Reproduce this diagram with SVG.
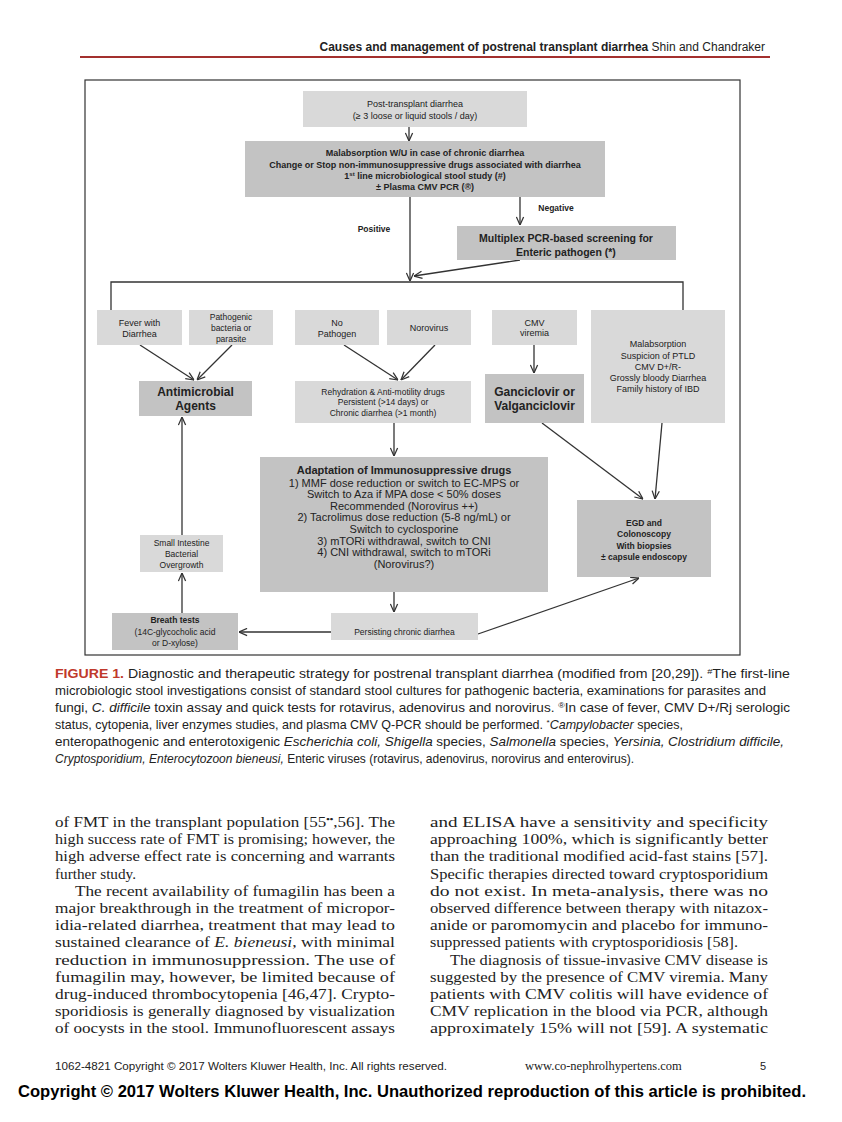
<svg xmlns="http://www.w3.org/2000/svg" width="842" height="1122" viewBox="0 0 842 1122">
<style>
.bg{fill:#ffffff}
.lt{fill:#d9d9d9}
.dk{fill:#c3c3c3}
.t{font-family:"Liberation Sans",Arial,sans-serif;fill:#222;text-anchor:middle}
.s9{font-size:9px}
.s85{font-size:8.5px}
.b{font-weight:bold}
.conn{stroke:#333;stroke-width:1.3;fill:none}
.arr{marker-end:url(#ah)}
.body{font-family:"Liberation Serif","Times New Roman",serif;font-size:15.4px;fill:#222}
.cap{font-family:"Liberation Sans",Arial,sans-serif;font-size:12.2px;fill:#222}
.i{font-style:italic}
</style>
<defs>
<marker id="ah" viewBox="0 0 10 10" refX="10" refY="5" markerWidth="9" markerHeight="9" markerUnits="userSpaceOnUse" orient="auto">
<path d="M1,1 L10,5 L1,9" fill="none" stroke="#333" stroke-width="1.4"/>
</marker>
</defs>
<rect class="bg" x="0" y="0" width="842" height="1122"/>

<!-- header -->
<g id="header">
<text x="765" y="51" text-anchor="end" font-family="'Liberation Sans',Arial,sans-serif" font-size="12px" fill="#222"><tspan font-weight="bold">Causes and management of postrenal transplant diarrhea</tspan> Shin and Chandraker</text>
<line x1="80" y1="57" x2="770" y2="57" stroke="#a3302e" stroke-width="2"/>
</g>

<!-- frame -->
<rect x="85" y="80" width="655" height="575" fill="none" stroke="#333" stroke-width="1.2"/>

<!-- connectors -->
<g id="connectors">
<line class="conn arr" x1="409" y1="127" x2="409" y2="141"/>
<line class="conn arr" x1="410" y1="197" x2="410" y2="281"/>
<line class="conn arr" x1="520" y1="197" x2="520" y2="225"/>
<line class="conn arr" x1="520" y1="260" x2="414" y2="276"/>
<path class="conn" d="M111,310 L111,282 L683,282 L683,310"/>
<line class="conn arr" x1="140" y1="345" x2="194" y2="380"/>
<line class="conn arr" x1="232" y1="345" x2="197" y2="380"/>
<line class="conn arr" x1="344" y1="345" x2="398" y2="380"/>
<line class="conn arr" x1="435" y1="345" x2="401" y2="380"/>
<line class="conn arr" x1="534" y1="345" x2="534" y2="373"/>
<line class="conn arr" x1="542" y1="423" x2="643" y2="499"/>
<line class="conn arr" x1="662" y1="423" x2="655" y2="499"/>
<line class="conn arr" x1="394" y1="423" x2="394" y2="456"/>
<line class="conn arr" x1="394" y1="592" x2="394" y2="612"/>
<line class="conn arr" x1="331" y1="632" x2="239" y2="632"/>
<line class="conn arr" x1="478" y1="634" x2="639" y2="578"/>
<line class="conn arr" x1="182" y1="613" x2="182" y2="573"/>
<line class="conn arr" x1="182" y1="535" x2="182" y2="417"/>
<text class="t b" x="556" y="211" font-size="8.5px">Negative</text>
<text class="t b" x="374" y="232" font-size="8.5px">Positive</text>
</g>

<g id="n-post">
<rect class="lt" x="303" y="91" width="224" height="36"/>
<text class="t s9" x="415" y="107">Post-transplant diarrhea</text>
<text class="t s9" x="415" y="119">(≥ 3 loose or liquid stools / day)</text>
</g>

<g id="n-malabs">
<rect class="dk" x="245" y="141" width="360" height="56"/>
<text class="t s9 b" x="425" y="156">Malabsorption W/U in case of chronic diarrhea</text>
<text class="t s9 b" x="425" y="168">Change or Stop non-immunosuppressive drugs associated with diarrhea</text>
<text class="t s9 b" x="425" y="179">1<tspan font-size="6px" dy="-3">st</tspan><tspan dy="3"> line microbiological stool study (#)</tspan></text>
<text class="t s9 b" x="425" y="190">± Plasma CMV PCR (®)</text>
</g>

<g id="n-multiplex">
<rect class="dk" x="457" y="226" width="219" height="34"/>
<text class="t b" x="566" y="242" font-size="10.5px">Multiplex PCR-based screening for</text>
<text class="t b" x="566" y="256" font-size="10.5px">Enteric pathogen (*)</text>
</g>

<g id="n-fever">
<rect class="lt" x="97" y="310" width="85" height="35"/>
<text class="t s9" x="139.5" y="326">Fever with</text>
<text class="t s9" x="139.5" y="337">Diarrhea</text>
</g>

<g id="n-pathogenic">
<rect class="lt" x="189" y="310" width="84" height="35"/>
<text class="t s85" x="231" y="320">Pathogenic</text>
<text class="t s85" x="231" y="331">bacteria or</text>
<text class="t s85" x="231" y="342">parasite</text>
</g>

<g id="n-nopath">
<rect class="lt" x="295" y="310" width="84" height="35"/>
<text class="t s9" x="337" y="326">No</text>
<text class="t s9" x="337" y="337">Pathogen</text>
</g>

<g id="n-noro">
<rect class="lt" x="387" y="310" width="84" height="35"/>
<text class="t s9" x="429" y="331">Norovirus</text>
</g>

<g id="n-cmv">
<rect class="lt" x="492" y="310" width="85" height="35"/>
<text class="t s9" x="534.5" y="326">CMV</text>
<text class="t s9" x="534.5" y="336">viremia</text>
</g>

<g id="n-malabs2">
<rect class="lt" x="591" y="310" width="134" height="113"/>
<text class="t s9" x="658" y="347">Malabsorption</text>
<text class="t s9" x="658" y="359">Suspicion of PTLD</text>
<text class="t s9" x="658" y="370">CMV D+/R-</text>
<text class="t s9" x="658" y="381">Grossly bloody Diarrhea</text>
<text class="t s9" x="658" y="392">Family history of IBD</text>
</g>

<g id="n-antimicrobial">
<rect class="dk" x="139" y="381" width="113" height="35"/>
<text class="t b" x="195.5" y="396" font-size="12px">Antimicrobial</text>
<text class="t b" x="195.5" y="410" font-size="12px">Agents</text>
</g>

<g id="n-rehyd">
<rect class="lt" x="295" y="381" width="176" height="42"/>
<text class="t s85" x="383" y="395">Rehydration &amp; Anti-motility drugs</text>
<text class="t s85" x="383" y="405">Persistent (&gt;14 days) or</text>
<text class="t s85" x="383" y="416">Chronic diarrhea (&gt;1 month)</text>
</g>

<g id="n-ganci">
<rect class="dk" x="485" y="374" width="99" height="49"/>
<text class="t b" x="534.5" y="396" font-size="12px">Ganciclovir or</text>
<text class="t b" x="534.5" y="410" font-size="12px">Valganciclovir</text>
</g>

<g id="n-adapt">
<rect class="dk" x="260" y="457" width="288" height="135"/>
<text class="t b" x="404" y="474" font-size="11px">Adaptation of Immunosuppressive drugs</text>
<text class="t" x="404" y="487" font-size="11px">1) MMF dose reduction or switch to EC-MPS or</text>
<text class="t" x="404" y="498" font-size="11px">Switch to Aza if MPA dose &lt; 50% doses</text>
<text class="t" x="404" y="510" font-size="11px">Recommended (Norovirus ++)</text>
<text class="t" x="404" y="521" font-size="11px">2) Tacrolimus dose reduction (5-8 ng/mL) or</text>
<text class="t" x="404" y="533" font-size="11px">Switch to cyclosporine</text>
<text class="t" x="404" y="545" font-size="11px">3) mTORi withdrawal, switch to CNI</text>
<text class="t" x="404" y="556" font-size="11px">4) CNI withdrawal, switch to mTORi</text>
<text class="t" x="404" y="568" font-size="11px">(Norovirus?)</text>
</g>

<g id="n-egd">
<rect class="dk" x="577" y="500" width="134" height="77"/>
<text class="t s85 b" x="644" y="526">EGD and</text>
<text class="t s85 b" x="644" y="537">Colonoscopy</text>
<text class="t s85 b" x="644" y="549">With biopsies</text>
<text class="t s85 b" x="644" y="560">± capsule endoscopy</text>
</g>

<g id="n-sibo">
<rect class="lt" x="140" y="535" width="83" height="37"/>
<text class="t s85" x="181.5" y="546">Small Intestine</text>
<text class="t s85" x="181.5" y="557">Bacterial</text>
<text class="t s85" x="181.5" y="568">Overgrowth</text>
</g>

<g id="n-breath">
<rect class="dk" x="112" y="613" width="126" height="37"/>
<text class="t s85 b" x="175" y="623">Breath tests</text>
<text class="t s85" x="175" y="635">(14C-glycocholic acid</text>
<text class="t s85" x="175" y="646">or D-xylose)</text>
</g>

<g id="n-persist">
<rect class="lt" x="331" y="613" width="147" height="27"/>
<text class="t s85" x="404.5" y="635">Persisting chronic diarrhea</text>
</g>

<!-- caption -->
<g id="caption">
<text class="cap" x="55" y="678" textLength="735" lengthAdjust="spacingAndGlyphs"><tspan fill="#c0392b" font-weight="bold">FIGURE 1.</tspan> Diagnostic and therapeutic strategy for postrenal transplant diarrhea (modified from [20,29]). <tspan font-size="8px" dy="-4">#</tspan><tspan dy="4">The first-line</tspan></text>
<text class="cap" x="55" y="695" textLength="711" lengthAdjust="spacingAndGlyphs">microbiologic stool investigations consist of standard stool cultures for pathogenic bacteria, examinations for parasites and</text>
<text class="cap" x="55" y="712" textLength="735" lengthAdjust="spacingAndGlyphs">fungi, <tspan class="i">C. difficile</tspan> toxin assay and quick tests for rotavirus, adenovirus and norovirus. <tspan font-size="8px" dy="-4">®</tspan><tspan dy="4">In case of fever, CMV D+/Rj serologic</tspan></text>
<text class="cap" x="55" y="729" textLength="628" lengthAdjust="spacingAndGlyphs">status, cytopenia, liver enzymes studies, and plasma CMV Q-PCR should be performed. <tspan font-size="8px" dy="-4">*</tspan><tspan dy="4" class="i">Campylobacter</tspan> species,</text>
<text class="cap" x="55" y="746" textLength="729" lengthAdjust="spacingAndGlyphs">enteropathogenic and enterotoxigenic <tspan class="i">Escherichia coli, Shigella</tspan> species, <tspan class="i">Salmonella</tspan> species, <tspan class="i">Yersinia, Clostridium difficile,</tspan></text>
<text class="cap" x="55" y="763" textLength="579" lengthAdjust="spacingAndGlyphs"><tspan class="i">Cryptosporidium, Enterocytozoon bieneusi,</tspan> Enteric viruses (rotavirus, adenovirus, norovirus and enterovirus).</text>
</g>

<!-- body text left column -->
<g id="body-left">
<text class="body" x="55" y="827" textLength="340" lengthAdjust="spacingAndGlyphs">of FMT in the transplant population [55<tspan font-size="9px" font-weight="bold" dy="-5">••</tspan><tspan dy="5">,56]. The</tspan></text>
<text class="body" x="55" y="844" textLength="340" lengthAdjust="spacingAndGlyphs">high success rate of FMT is promising; however, the</text>
<text class="body" x="55" y="861" textLength="340" lengthAdjust="spacingAndGlyphs">high adverse effect rate is concerning and warrants</text>
<text class="body" x="55" y="879" textLength="81" lengthAdjust="spacingAndGlyphs">further study.</text>
<text class="body" x="75" y="896" textLength="320" lengthAdjust="spacingAndGlyphs">The recent availability of fumagilin has been a</text>
<text class="body" x="55" y="913" textLength="340" lengthAdjust="spacingAndGlyphs">major breakthrough in the treatment of micropor-</text>
<text class="body" x="55" y="930" textLength="340" lengthAdjust="spacingAndGlyphs">idia-related diarrhea, treatment that may lead to</text>
<text class="body" x="55" y="947" textLength="340" lengthAdjust="spacingAndGlyphs">sustained clearance of <tspan class="i">E. bieneusi</tspan>, with minimal</text>
<text class="body" x="55" y="965" textLength="340" lengthAdjust="spacingAndGlyphs">reduction in immunosuppression. The use of</text>
<text class="body" x="55" y="982" textLength="340" lengthAdjust="spacingAndGlyphs">fumagilin may, however, be limited because of</text>
<text class="body" x="55" y="999" textLength="340" lengthAdjust="spacingAndGlyphs">drug-induced thrombocytopenia [46,47]. Crypto-</text>
<text class="body" x="55" y="1016" textLength="340" lengthAdjust="spacingAndGlyphs">sporidiosis is generally diagnosed by visualization</text>
<text class="body" x="55" y="1033" textLength="340" lengthAdjust="spacingAndGlyphs">of oocysts in the stool. Immunofluorescent assays</text>
</g>

<!-- body text right column -->
<g id="body-right">
<text class="body" x="430" y="827" textLength="338" lengthAdjust="spacingAndGlyphs">and ELISA have a sensitivity and specificity</text>
<text class="body" x="430" y="844" textLength="338" lengthAdjust="spacingAndGlyphs">approaching 100%, which is significantly better</text>
<text class="body" x="430" y="861" textLength="338" lengthAdjust="spacingAndGlyphs">than the traditional modified acid-fast stains [57].</text>
<text class="body" x="430" y="879" textLength="338" lengthAdjust="spacingAndGlyphs">Specific therapies directed toward cryptosporidium</text>
<text class="body" x="430" y="896" textLength="338" lengthAdjust="spacingAndGlyphs">do not exist. In meta-analysis, there was no</text>
<text class="body" x="430" y="913" textLength="338" lengthAdjust="spacingAndGlyphs">observed difference between therapy with nitazox-</text>
<text class="body" x="430" y="930" textLength="338" lengthAdjust="spacingAndGlyphs">anide or paromomycin and placebo for immuno-</text>
<text class="body" x="430" y="947" textLength="308" lengthAdjust="spacingAndGlyphs">suppressed patients with cryptosporidiosis [58].</text>
<text class="body" x="450" y="965" textLength="318" lengthAdjust="spacingAndGlyphs">The diagnosis of tissue-invasive CMV disease is</text>
<text class="body" x="430" y="982" textLength="338" lengthAdjust="spacingAndGlyphs">suggested by the presence of CMV viremia. Many</text>
<text class="body" x="430" y="999" textLength="338" lengthAdjust="spacingAndGlyphs">patients with CMV colitis will have evidence of</text>
<text class="body" x="430" y="1016" textLength="338" lengthAdjust="spacingAndGlyphs">CMV replication in the blood via PCR, although</text>
<text class="body" x="430" y="1033" textLength="338" lengthAdjust="spacingAndGlyphs">approximately 15% will not [59]. A systematic</text>
</g>

<!-- footer -->
<g id="footer">
<text x="55" y="1070" font-family="'Liberation Sans',Arial,sans-serif" font-size="10px" fill="#222" textLength="392" lengthAdjust="spacingAndGlyphs">1062-4821 Copyright © 2017 Wolters Kluwer Health, Inc. All rights reserved.</text>
<text x="525" y="1070" font-family="'Liberation Serif','Times New Roman',serif" font-size="12.5px" fill="#222">www.co-nephrolhypertens.com</text>
<text x="766" y="1070" text-anchor="end" font-family="'Liberation Sans',Arial,sans-serif" font-size="11px" fill="#222">5</text>
<text x="18" y="1097" font-family="'Liberation Sans',Arial,sans-serif" font-size="16px" font-weight="bold" fill="#000" textLength="788" lengthAdjust="spacingAndGlyphs">Copyright © 2017 Wolters Kluwer Health, Inc. Unauthorized reproduction of this article is prohibited.</text>
</g>
</svg>
